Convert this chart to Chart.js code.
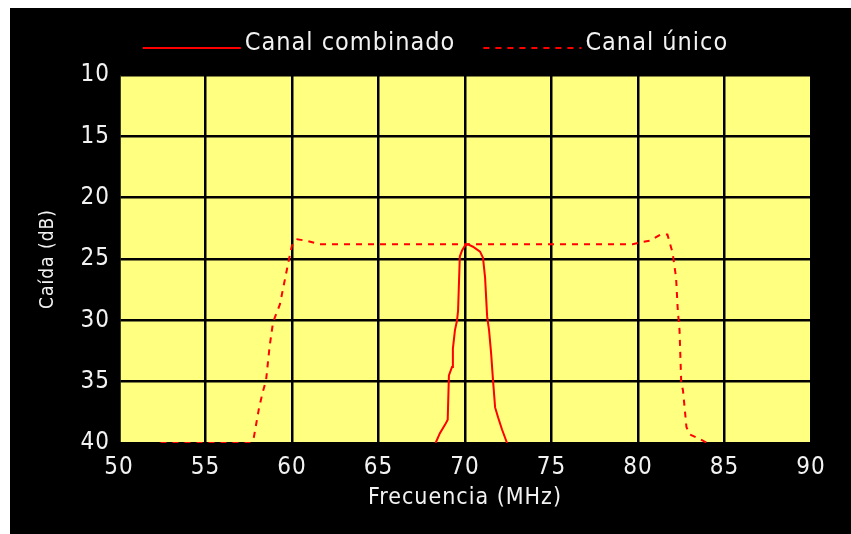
<!DOCTYPE html>
<html>
<head>
<meta charset="utf-8">
<script src="https://cdn.jsdelivr.net/npm/chart.js@4/dist/chart.umd.min.js"></script>
<style>
  html, body { margin: 0; padding: 0; background: #ffffff; }
  #wrap { position: absolute; left: 10px; top: 8px; width: 841px; height: 526px; background: #000000; }
  canvas { display: block; }
</style>
</head>
<body>
<div id="wrap"><canvas id="c" width="841" height="526"></canvas></div>
<script>
const FONT = "'DejaVu Sans Condensed', 'DejaVu Sans', sans-serif";
const SPACING = '1px';

// Frequency axis (MHz) and attenuation axis (dB) ticks
const xTicks = [50, 55, 60, 65, 70, 75, 80, 85, 90];
const yTicks = [10, 15, 20, 25, 30, 35, 40];

// Combined channel response
const combinadoFreq = [68.3, 68.55, 68.85, 69.0, 69.07, 69.25, 69.3, 69.42, 69.54, 69.6, 69.7, 69.83, 70.0, 70.17, 70.46, 70.87, 71.04, 71.16, 71.28, 71.39, 71.51, 71.62, 71.74, 71.91, 72.14, 72.43];
const combinadoDb   = [40, 39.2, 38.5, 38.1, 34.5, 33.8, 32.3, 30.8, 30.0, 29.2, 24.8, 24.3, 23.9, 23.8, 24.0, 24.4, 24.9, 26.5, 29.7, 30.8, 32.7, 34.9, 37.1, 37.9, 38.9, 40];

// Single channel response
const unicoFreq = [52.4, 57.6, 57.8, 58.1, 58.3, 58.5, 58.7, 58.9, 59.0, 59.3, 59.5, 59.7, 59.9, 60.0, 60.3, 60.8, 61.6, 79.7, 80.3, 80.7, 81.3, 81.7, 81.9, 82.0, 82.2, 82.3, 82.4, 82.5, 82.6, 82.8, 83.0, 83.6, 84.0];
const unicoDb   = [40, 40, 39.5, 37.1, 35.9, 34.9, 32.2, 30.2, 29.8, 28.7, 27.3, 25.9, 24.5, 23.9, 23.4, 23.5, 23.8, 23.8, 23.6, 23.5, 23.0, 23.0, 24.0, 24.5, 26.5, 29.2, 30.8, 35.1, 35.7, 38.7, 39.3, 39.7, 40];

const toPoints = (xs, ys) => xs.map((x, i) => ({ x: x, y: ys[i] }));

// Spaced-out lettering for all canvas text
const spacing = {
  id: 'spacing',
  afterInit(chart) { chart.ctx.letterSpacing = SPACING; },
  beforeUpdate(chart) { chart.ctx.letterSpacing = SPACING; },
  beforeDraw(chart) { chart.ctx.letterSpacing = SPACING; }
};

// Yellow plotting field
const plotField = {
  id: 'plotField',
  beforeDraw(chart) {
    const { ctx, chartArea: a } = chart;
    ctx.save();
    ctx.fillStyle = '#ffff80';
    ctx.fillRect(a.left, a.top, a.right - a.left, a.bottom - a.top);
    ctx.restore();
  }
};

// Legend row above the plot: line sample followed by its label
const topLegend = {
  id: 'topLegend',
  afterDraw(chart) {
    const ctx = chart.ctx;
    ctx.save();
    ctx.letterSpacing = SPACING;
    ctx.font = '25px ' + FONT;
    const sampleLen = 98, textGap = 4, itemGap = 28;
    const items = chart.data.datasets.map(ds => ({
      text: ds.label, color: ds.borderColor, dash: ds.borderDash || [],
      w: ctx.measureText(ds.label).width
    }));
    const total = items.reduce((s, it) => s + sampleLen + textGap + it.w, 0) + itemGap * (items.length - 1);
    let x = (chart.width - total) / 2 + 5;
    const yText = 35, yLine = 40;
    items.forEach(it => {
      ctx.strokeStyle = it.color;
      ctx.lineWidth = 2;
      ctx.setLineDash(it.dash);
      ctx.beginPath();
      ctx.moveTo(x, yLine);
      ctx.lineTo(x + sampleLen, yLine);
      ctx.stroke();
      ctx.setLineDash([]);
      ctx.fillStyle = '#f2f2f2';
      ctx.textBaseline = 'middle';
      ctx.textAlign = 'left';
      ctx.fillText(it.text, x + sampleLen + textGap, yText);
      x += sampleLen + textGap + it.w + itemGap;
    });
    ctx.restore();
  }
};

new Chart(document.getElementById('c'), {
  type: 'line',
  data: {
    datasets: [
      {
        label: 'Canal combinado',
        data: toPoints(combinadoFreq, combinadoDb),
        borderColor: '#ff0000',
        borderWidth: 2,
        pointRadius: 0,
        tension: 0,
        fill: false
      },
      {
        label: 'Canal único',
        data: toPoints(unicoFreq, unicoDb),
        borderColor: '#ff0000',
        borderWidth: 2,
        borderDash: [6, 6],
        pointRadius: 0,
        tension: 0,
        fill: false
      }
    ]
  },
  options: {
    responsive: false,
    animation: false,
    layout: { padding: { top: 67, right: 40, bottom: 0, left: 0 } },
    plugins: { legend: { display: false }, tooltip: { enabled: false } },
    scales: {
      x: {
        type: 'linear',
        min: xTicks[0],
        max: xTicks[xTicks.length - 1],
        afterBuildTicks(scale) { scale.ticks = xTicks.map(v => ({ value: v })); },
        afterFit(scale) { scale.height = 91; },
        grid: { color: '#000000', lineWidth: 2.5, drawTicks: false },
        border: { display: true, color: '#000000', width: 2.5 },
        ticks: { color: '#f2f2f2', padding: 10, font: { family: FONT, size: 24 }, maxRotation: 0 },
        title: {
          display: true,
          text: 'Frecuencia (MHz)',
          color: '#f2f2f2',
          font: { family: FONT, size: 23 },
          padding: { top: 0, bottom: 22 }
        }
      },
      y: {
        type: 'linear',
        reverse: true,
        min: yTicks[0],
        max: yTicks[yTicks.length - 1],
        afterBuildTicks(scale) { scale.ticks = yTicks.map(v => ({ value: v })); },
        afterFit(scale) { scale.width = 109; },
        grid: { color: '#000000', lineWidth: 2.5, drawTicks: false },
        border: { display: true, color: '#000000', width: 2.5 },
        ticks: { color: '#f2f2f2', padding: 9, font: { family: FONT, size: 24 } },
        title: {
          display: true,
          text: 'Caída (dB)',
          color: '#f2f2f2',
          font: { family: FONT, size: 19 },
          padding: { top: 27, bottom: 0 }
        }
      }
    }
  },
  plugins: [spacing, plotField, topLegend]
});
</script>
</body>
</html>
